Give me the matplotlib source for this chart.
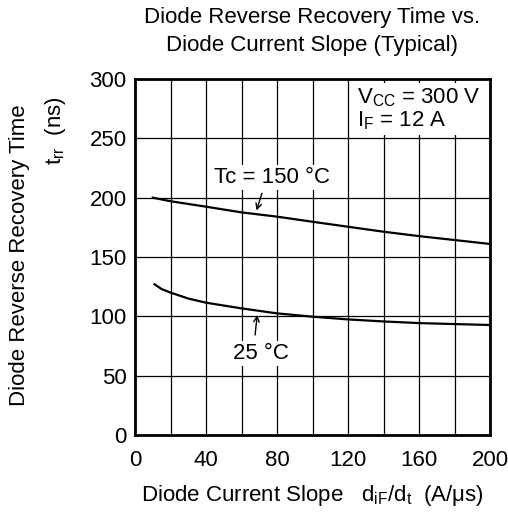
import matplotlib
matplotlib.use("Agg")
import matplotlib.pyplot as plt

plt.rcParams["font.family"] = ["Liberation Sans", "DejaVu Sans"]
plt.rcParams["mathtext.fontset"] = "custom"
plt.rcParams["mathtext.rm"] = "Liberation Sans"
plt.rcParams["mathtext.it"] = "Liberation Sans"

# di/dt (A/us) and trr (ns)
x_150 = [10, 20, 40, 60, 80, 100, 120, 140, 160, 180, 200]
trr_150 = [200, 197, 192.4, 187.6, 184, 179.7, 175.5, 171.3, 167.6, 164.3, 161]
x_25 = [11, 15, 20, 30, 40, 60, 80, 100, 120, 140, 160, 180, 200]
trr_25 = [127, 123, 120, 115, 111.5, 106.7, 102.5, 99.7, 97.4, 95.7, 94.3, 93.5, 92.7]

xticks = [0, 40, 80, 120, 160, 200]
yticks = [0, 50, 100, 150, 200, 250, 300]

fs = 16
fig = plt.figure(figsize=(5.08, 5.15), dpi=100)
ax = fig.add_axes([135 / 508, 1 - 435 / 515, 355 / 508, 356 / 515])

ax.plot(x_150, trr_150, color="black", lw=1.6, zorder=3)
ax.plot(x_25, trr_25, color="black", lw=1.6, zorder=3)

ax.set_xlim(0, 200)
ax.set_ylim(0, 300)
ax.set_xticks(xticks)
ax.set_yticks(yticks)
ax.set_xticks(range(0, 201, 20), minor=True)
ax.grid(True, which="both", axis="x", color="black", lw=0.9)
ax.grid(True, which="major", axis="y", color="black", lw=0.9)
ax.tick_params(which="both", length=0, labelsize=fs)
ax.tick_params(axis="x", pad=11)
ax.tick_params(axis="y", pad=6)
for s in ax.spines.values():
    s.set_linewidth(2)

box = dict(facecolor="white", edgecolor="none", pad=1.5)
ax.text(77, 217, "Tc = 150 °C", fontsize=fs, ha="center", va="center", bbox=box, zorder=4)
ax.annotate("", xy=(68, 187), xytext=(72, 206),
            arrowprops=dict(arrowstyle="->", color="black", lw=1), zorder=4)
ax.text(71, 69, "25 °C", fontsize=fs, ha="center", va="center", bbox=box, zorder=4)
ax.annotate("", xy=(69, 103.5), xytext=(67.5, 82),
            arrowprops=dict(arrowstyle="->", color="black", lw=1), zorder=4)

ax.text(125, 294, "$\\mathrm{V_{CC}}$ = 300 V\n$\\mathrm{I_F}$ = 12 A",
        fontsize=fs, ha="left", va="top", linespacing=1.05,
        bbox=dict(facecolor="white", edgecolor="none", pad=2), zorder=4)

fig.text(312 / 508, 1 - 18 / 515, "Diode Reverse Recovery Time vs.", fontsize=fs, ha="center", va="center")
fig.text(312 / 508, 1 - 45 / 515, "Diode Current Slope (Typical)", fontsize=fs, ha="center", va="center")
fig.text(312 / 508, 1 - 495 / 515, "Diode Current Slope   $\\mathrm{d_{iF}/d_t}$  (A/μs)",
         fontsize=fs, ha="center", va="center")
fig.text(20 / 508, 1 - 255 / 515, "Diode Reverse Recovery Time", fontsize=fs, rotation=90,
         ha="center", va="center")
fig.text(55 / 508, 1 - 131 / 515, "$\\mathrm{t_{rr}}$  (ns)", fontsize=fs, rotation=90,
         ha="center", va="center")

fig.savefig("out.png", dpi=100)
